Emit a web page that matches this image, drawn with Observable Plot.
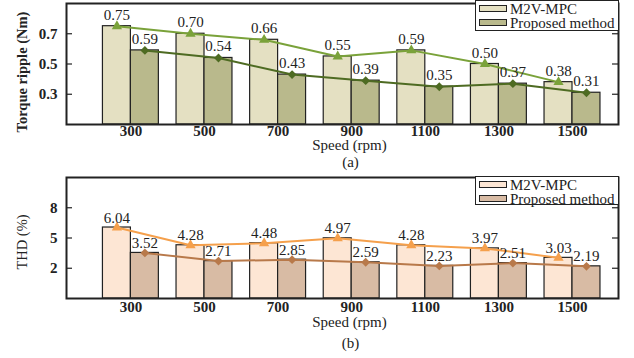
<!DOCTYPE html>
<html>
<head>
<meta charset="utf-8">
<script src="https://cdn.jsdelivr.net/npm/d3@7"></script>
<script src="https://cdn.jsdelivr.net/npm/@observablehq/plot@0.6"></script>
<style>
  html, body { margin: 0; padding: 0; background: #fff; }
  body { width: 634px; height: 358px; overflow: hidden; font-family: "Liberation Serif", serif; }
  .panel { position: relative; width: 634px; }
  .legend { position: absolute; background: #fff; border: 1px solid #222; box-sizing: border-box; font-size: 15px; line-height: 14px; color: #222; padding-top: 0.5px; }
  .row { display: flex; align-items: center; height: 14px; }
  .row span { display: block; line-height: 14px; height: 14px; }
  .sw { width: 28px; height: 7px; border: 1px solid #222; margin: 0 3px 0 3px; box-sizing: border-box; }
</style>
</head>
<body>
<div id="chart"></div>
<script>
// ---- data ----
const speeds = [300, 500, 700, 900, 1100, 1300, 1500];
const seriesNames = ["M2V-MPC", "Proposed method"];
const torqueM2V = [0.75, 0.70, 0.66, 0.55, 0.59, 0.50, 0.38];
const torqueProposed = [0.59, 0.54, 0.43, 0.39, 0.35, 0.37, 0.31];
const thdM2V = [6.04, 4.28, 4.48, 4.97, 4.28, 3.97, 3.03];
const thdProposed = [3.52, 2.71, 2.85, 2.59, 2.23, 2.51, 2.19];
const torqueTicks = [0.3, 0.5, 0.7];
const thdTicks = [2, 5, 8];

const W = 634, ML = 66, MR = 16;
const frameW = W - ML - MR;
const bw = 76; // bar width in speed units
const fmt = d3.format(".2f");
const FS = 15;

function panel({a, b, yDomain, yTicks, yLabel, yLabelWeight, caption, height, mt, mb, colors, legendTop, legendH, tickPad, xlDy, capDy, ylDy, valDy}) {
  const data = speeds.map((s, i) => ({s, a: a[i], b: b[i]}));
  const y0 = yDomain[0];
  const plot = Plot.plot({
    width: W, height, marginTop: mt, marginBottom: mb, marginLeft: ML, marginRight: MR,
    x: {domain: [125, 1625], axis: null},
    y: {domain: yDomain, axis: null},
    style: {fontFamily: "Liberation Serif", fontSize: "15px", background: "#fff", color: "#222"},
    marks: [
      Plot.rect(data, {x1: d => d.s - bw, x2: d => d.s, y1: y0, y2: "a", fill: colors.barA, stroke: "#222", strokeWidth: 1.2}),
      Plot.rect(data, {x1: d => d.s, x2: d => d.s + bw, y1: y0, y2: "b", fill: colors.barB, stroke: "#222", strokeWidth: 1.2}),
      Plot.line(data, {x: d => d.s - bw / 2, y: "a", stroke: colors.lineA, strokeWidth: 2}),
      Plot.line(data, {x: d => d.s + bw / 2, y: "b", stroke: colors.lineB, strokeWidth: 2}),
      Plot.dot(data, {x: d => d.s - bw / 2, y: "a", symbol: "triangle", fill: colors.lineA, r: 3.8}),
      Plot.dot(data, {x: d => d.s + bw / 2, y: "b", symbol: "diamond2", fill: colors.lineB, r: 4}),
      Plot.text(data, {x: d => d.s - bw / 2, y: "a", text: d => fmt(d.a), lineAnchor: "middle", dy: valDy, fill: "#222", fontSize: FS}),
      Plot.text(data, {x: d => d.s + bw / 2, y: "b", text: d => fmt(d.b), lineAnchor: "middle", dy: valDy, fill: "#222", fontSize: FS}),
      Plot.tickY(yTicks, {y: d => d, insetRight: frameW - 6, stroke: "#222", strokeWidth: 1.2}),
      Plot.tickY(yTicks, {y: d => d, insetLeft: frameW - 6, stroke: "#222", strokeWidth: 1.2}),
      Plot.frame({stroke: "#222", strokeWidth: 2}),
      Plot.axisX(speeds, {tickSize: 0, tickPadding: tickPad, fontWeight: "bold", fontSize: FS, label: null, tickFormat: d => String(d)}),
      Plot.axisY(yTicks, {tickSize: 0, tickPadding: 9, fontWeight: "bold", fontSize: FS, label: null, tickFormat: d => String(d)}),
      Plot.text([yLabel], {frameAnchor: "left", textAnchor: "middle", lineAnchor: "middle", rotate: -90, dx: -44, dy: ylDy, fontWeight: yLabelWeight, fill: "#222", fontSize: 14.5}),
      Plot.text(["Speed (rpm)"], {frameAnchor: "bottom", lineAnchor: "middle", dx: 7, dy: xlDy, fill: "#222", fontSize: FS}),
      Plot.text([caption], {frameAnchor: "bottom", lineAnchor: "middle", dx: 8, dy: capDy, fill: "#222", fontSize: FS})
    ]
  });
  const div = document.createElement("div");
  div.className = "panel";
  div.style.height = height + "px";
  div.appendChild(plot);
  const lg = document.createElement("div");
  lg.className = "legend";
  lg.style.left = "475px"; lg.style.top = legendTop + "px";
  lg.style.width = (W - MR - 475 + 1) + "px"; lg.style.height = legendH + "px";
  [colors.barA, colors.barB].forEach((c, i) => {
    const r = document.createElement("div"); r.className = "row";
    const sw = document.createElement("div"); sw.className = "sw"; sw.style.background = c;
    const t = document.createElement("span"); t.textContent = seriesNames[i];
    r.appendChild(sw); r.appendChild(t); lg.appendChild(r);
  });
  div.appendChild(lg);
  return div;
}

const root = document.getElementById("chart");
root.appendChild(panel({
  a: torqueM2V, b: torqueProposed, yDomain: [0.1, 0.9], yTicks: torqueTicks,
  yLabel: "Torque ripple (Nm)", yLabelWeight: "bold", caption: "(a)", height: 172, mt: 3, mb: 48,
  colors: {barA: "#e4e0c2", barB: "#b9b98c", lineA: "#7aa23a", lineB: "#4e6b22"},
  legendTop: 0, legendH: 31, tickPad: 0.5, xlDy: 21, capDy: 38, ylDy: 8, valDy: -11.3
}));
root.appendChild(panel({
  a: thdM2V, b: thdProposed, yDomain: [-1, 11], yTicks: thdTicks,
  yLabel: "THD (%)", yLabelWeight: "normal", caption: "(b)", height: 186, mt: 5, mb: 60,
  colors: {barA: "#fde6d4", barB: "#d8bba4", lineA: "#f5a04c", lineB: "#b8794a"},
  legendTop: 4, legendH: 29, tickPad: 3, xlDy: 24, capDy: 44.5, ylDy: 4, valDy: -9.8
}));
</script>
</body>
</html>
